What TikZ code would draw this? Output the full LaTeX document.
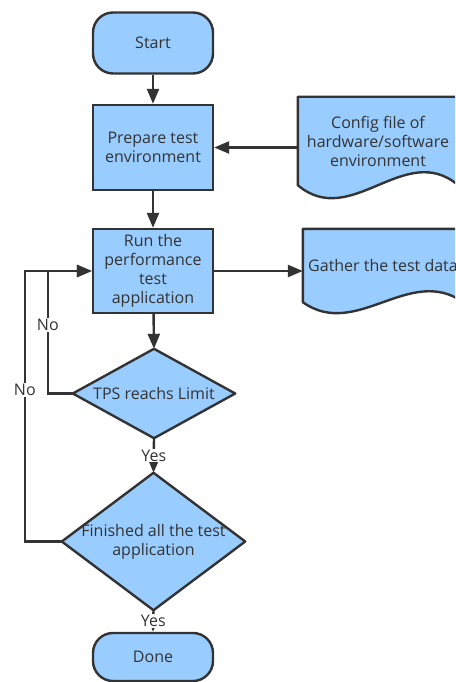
\documentclass[tikz,border=0pt]{standalone}
\usepackage{fontspec}
\setmainfont{Open Sans}
\usetikzlibrary{arrows.meta,calc,backgrounds}
\definecolor{flowblue}{HTML}{99CCFF}
\definecolor{flowline}{HTML}{333333}
\tikzset{
  term/.style={draw=flowline,fill=flowblue,line width=2.4pt,rounded corners=20pt,minimum width=120pt,minimum height=61pt,align=center},
  proc/.style={draw=flowline,fill=flowblue,line width=2.4pt,minimum width=120pt,minimum height=85pt,align=center},
  deci/.style={align=center,inner sep=0pt},
  docu/.style={align=center,inner sep=0pt,minimum width=160pt},
  shp/.style={draw=flowline,fill=flowblue,line width=2.4pt,line join=round},
  arr/.style={-{Triangle[length=15pt,width=12pt]},line width=2.4pt,draw=flowline},
  lbl/.style={fill=white,inner sep=1pt,text=flowline}
}

\begin{document}
\begin{tikzpicture}[x=1pt,y=-1pt,font=\fontsize{16}{19}\selectfont,text=flowline]
\useasboundingbox (0,0) rectangle (455,682);
\clip (0,0) rectangle (455,682);
\node[term] (start) at (153,43) {Start};
\node[proc] (prep) at (153,147.5) {Prepare test\\environment};
\node[docu,minimum height=88pt] (cfg) at (378,141) {Config file of\\hardware/software\\environment};
\node[proc,minimum height=84pt] (run) at (153,271) {Run the\\performance\\test\\application};
\node[docu,minimum height=73pt] (gat) at (383,265.5) {Gather the test data};
\node[deci,minimum width=162pt,minimum height=89pt] (tps) at (154,393.5) {TPS reachs Limit};
\node[deci,minimum width=183pt,minimum height=137pt] (fin) at (153.5,541.5) {Finished all the test\\application};
\node[term,minimum height=48pt] (done) at (153,657) {Done};
% shapes behind the text
\begin{scope}[on background layer]
\clip (0,0) rectangle (455,682);
\foreach \d/\a in {cfg/45,gat/38}
  \draw[shp] (\d.south west) -- (\d.north west) -- (\d.north east) -- (\d.south east)
    .. controls ($(\d.south west)!.667!(\d.south east)+(0,-\a)$) and ($(\d.south west)!.333!(\d.south east)+(0,\a)$) .. (\d.south west) -- cycle;
\foreach \d in {tps,fin}
  \draw[shp] (\d.north) -- (\d.east) -- (\d.south) -- (\d.west) -- cycle;
\end{scope}
% connectors
\draw[arr] (start) -- (prep);
\draw[arr] (cfg.west |- prep.east) -- (prep.east);
\draw[arr] (prep) -- (run);
\draw[arr] (run.east) -- (run.east -| gat.west);
\draw[arr] (run) -- (tps.north);
\draw[arr] (tps.south) -- node[lbl]{Yes} (fin.north);
\draw[arr] (fin.south) -- node[lbl]{Yes} (done.north);
\draw[arr] (tps.west) -- ++(-25,0) |- node[lbl,pos=.28]{No} (run.west);
\draw[arr] (fin.west) -- ++(-37,0) |- node[lbl,pos=.28]{No} (run.west);
\end{tikzpicture}
\end{document}
